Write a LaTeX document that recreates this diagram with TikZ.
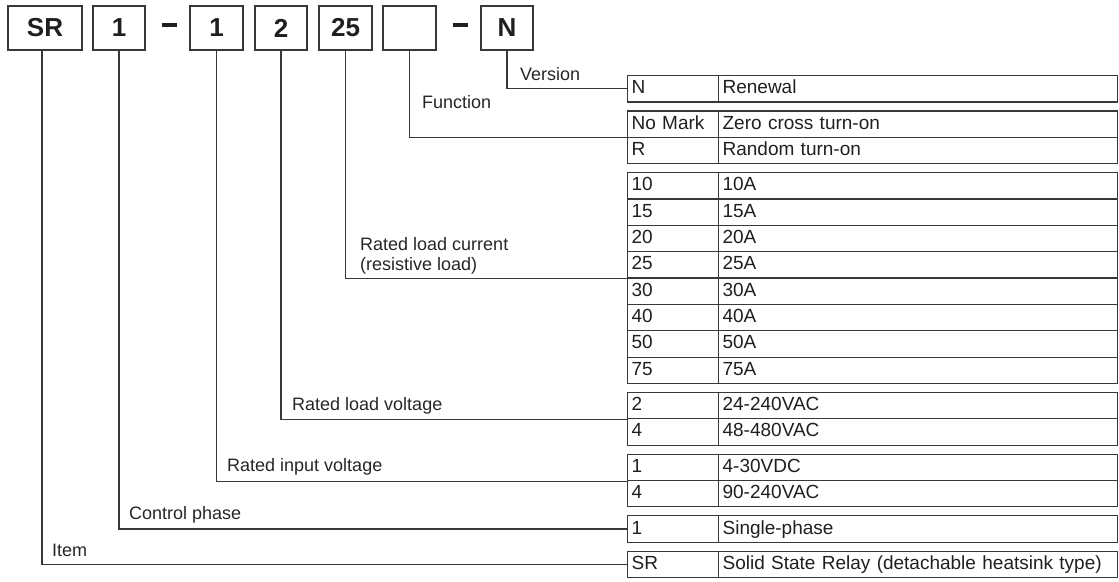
\documentclass[tikz,border=0pt]{standalone}
\usepackage{fontspec}
\setmainfont{Liberation Sans}
\begin{document}
\begin{tikzpicture}[x=1pt,y=-1pt,
  ln/.style={draw=black!78, line width=1.1pt},
  codebox/.style={draw=black!78, line width=1.2pt, minimum height=44pt, inner sep=0pt,
    font=\fontsize{26}{26}\selectfont\bfseries, text=black!88},
  dashlbl/.style={inner sep=0pt, text=black!88},
  lbl/.style={anchor=base west, inner sep=0pt, font=\fontsize{18}{22}\selectfont, text=black!85},
  cellA/.style={draw=black!78, line width=1.2pt, anchor=north west, minimum height=26.35pt,
    inner ysep=0pt, inner xsep=4pt, text width=83pt, align=left,
    text height=13.5pt, text depth=3.5pt, font=\fontsize{19}{22}\selectfont, text=black!88},
  cellB/.style={cellA, text width=391pt}
]
\useasboundingbox (0,0) rectangle (1119,581);

% code boxes
\node[codebox, minimum width=74pt] (bSR) at (45,28) {SR};
\node[codebox, minimum width=52pt] (bP) at (119,28) {1};
\node[dashlbl] (d1) at (169.5,25) {\rule{15pt}{4pt}};
\node[codebox, minimum width=53pt] (bI) at (216.5,28) {1};
\node[codebox, minimum width=52pt] (bV) at (281,28) {2};
\node[codebox, minimum width=53pt] (bC) at (345.5,28) {25};
\node[codebox, minimum width=53pt] (bF) at (409.5,28) {};
\node[dashlbl] (d2) at (460.5,25) {\rule{15pt}{4pt}};
\node[codebox, minimum width=52pt] (bN) at (507,28) {N};

% tables
% Version
\node[cellA] (n1a) at (627,75) {N};
\node[cellB] (n1b) at (718,75) {Renewal};
% Function
\node[cellA] (f1a) at (627,110.35) {No Mark};
\node[cellB] (f1b) at (718,110.35) {Zero cross turn-on};
\node[cellA] (f2a) at (627,136.7) {R};
\node[cellB] (f2b) at (718,136.7) {Random turn-on};
% Current
\node[cellA] (c1a) at (627,172.05) {10};
\node[cellB] (c1b) at (718,172.05) {10A};
\node[cellA] (c2a) at (627,198.4) {15};
\node[cellB] (c2b) at (718,198.4) {15A};
\node[cellA] (c3a) at (627,224.75) {20};
\node[cellB] (c3b) at (718,224.75) {20A};
\node[cellA] (c4a) at (627,251.1) {25};
\node[cellB] (c4b) at (718,251.1) {25A};
\node[cellA] (c5a) at (627,277.45) {30};
\node[cellB] (c5b) at (718,277.45) {30A};
\node[cellA] (c6a) at (627,303.8) {40};
\node[cellB] (c6b) at (718,303.8) {40A};
\node[cellA] (c7a) at (627,330.15) {50};
\node[cellB] (c7b) at (718,330.15) {50A};
\node[cellA] (c8a) at (627,356.5) {75};
\node[cellB] (c8b) at (718,356.5) {75A};
% Load voltage
\node[cellA] (v1a) at (627,391.85) {2};
\node[cellB] (v1b) at (718,391.85) {24-240VAC};
\node[cellA] (v2a) at (627,418.2) {4};
\node[cellB] (v2b) at (718,418.2) {48-480VAC};
% Input voltage
\node[cellA] (i1a) at (627,453.55) {1};
\node[cellB] (i1b) at (718,453.55) {4-30VDC};
\node[cellA] (i2a) at (627,479.9) {4};
\node[cellB] (i2b) at (718,479.9) {90-240VAC};
% Control phase
\node[cellA] (p1a) at (627,515.25) {1};
\node[cellB] (p1b) at (718,515.25) {Single-phase};
% Item
\node[cellA] (s1a) at (627,550.6) {SR};
\node[cellB] (s1b) at (718,550.6) {Solid State Relay (detachable heatsink type)};

% connectors
\draw[ln] (bN.south) |- (n1a.west);
\draw[ln] (bF.south) |- (f1a.south west);
\draw[ln] (bC.south) |- (c4a.south west);
\draw[ln] (bV.south) |- (v1a.south west);
\draw[ln] (bI.south) |- (i1a.south west);
\draw[ln] (bP.south) |- (p1a.west);
\draw[ln] ([xshift=-3pt]bSR.south) |- (s1a.west);

% labels
\node[lbl] (lN) at (520,80) {Version};
\node[lbl] (lF) at (422,108) {Function};
\node[lbl] (lC1) at (360,250) {Rated load current};
\node[lbl] (lC2) at (360,270) {(resistive load)};
\node[lbl] (lV) at (292,410) {Rated load voltage};
\node[lbl] (lI) at (227,471) {Rated input voltage};
\node[lbl] (lP) at (129,519) {Control phase};
\node[lbl] (lS) at (52,556) {Item};
\end{tikzpicture}
\end{document}
